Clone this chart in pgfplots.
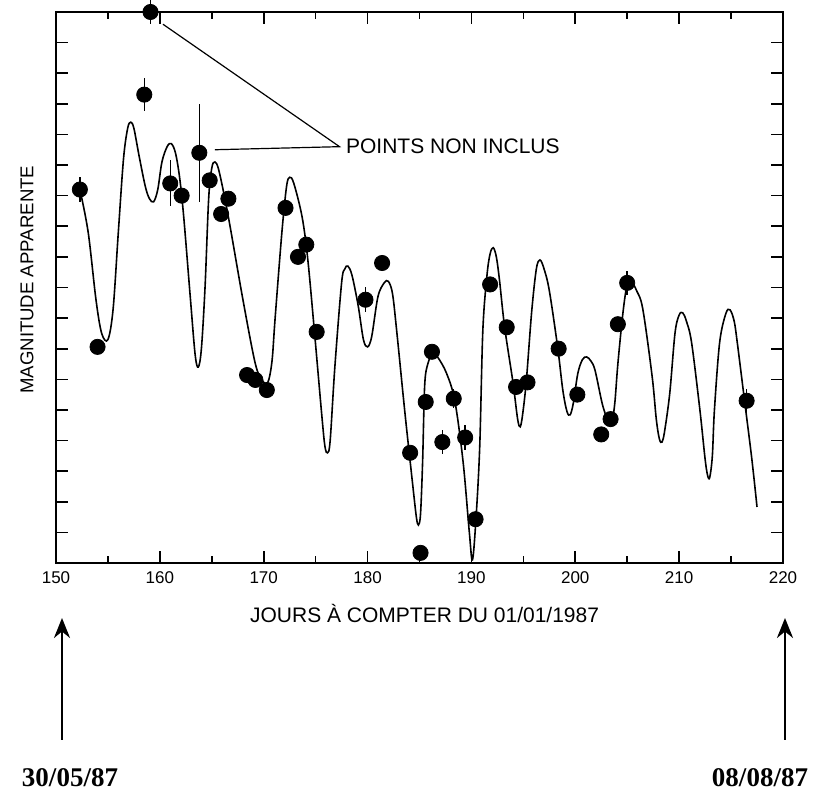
\documentclass[border=0pt]{standalone}
\usepackage{pgfplots}
\pgfplotsset{compat=1.18}
\usepackage{pgfplotstable}
\usetikzlibrary{arrows.meta}
\usepackage{fontspec}
\setmainfont{Liberation Sans}
\newfontfamily\datefont{Liberation Serif}

\pgfplotstableread{
x y
152.3 12.2
153.1 10.8
153.85 8.6
154.4 7.5
155.0 7.3
155.5 8.3
156.0 10.8
156.5 13.2
156.9 14.2
157.2 14.4
157.5 14.2
158.0 13.3
158.6 12.3
159.0 11.9
159.4 11.8
159.8 12.2
160.2 13.1
160.7 13.6
161.1 13.7
161.5 13.4
161.9 12.6
162.3 11.3
162.95 8.6
163.4 6.8
163.7 6.4
164.0 7.0
164.35 9.0
164.7 11.9
165.0 12.9
165.3 13.1
165.7 12.8
166.6 11.3
168.0 8.6
169.2 6.5
169.9 5.95
170.4 5.9
170.8 6.6
171.1 8.0
171.75 10.8
172.2 12.3
172.5 12.6
172.9 12.4
173.7 11.3
174.25 9.9
174.9 7.5
175.6 4.8
175.9 3.8
176.15 3.6
176.4 4.0
176.85 6.4
177.5 9.15
177.8 9.6
178.1 9.7
178.5 9.4
179.1 8.4
179.6 7.3
180.0 7.06
180.4 7.4
181.0 8.7
181.6 9.15
182.0 9.2
182.4 8.8
182.8 7.6
183.6 4.9
184.3 2.7
184.7 1.5
184.9 1.24
185.1 1.6
185.3 3.3
185.5 5.8
185.8 6.5
186.3 6.86
186.8 6.7
187.6 6.2
188.4 5.3
189.2 3.3
189.8 1.0
190.1 0.1
190.45 1.5
190.8 3.8
191.1 7.6
191.5 9.4
191.8 10.1
192.1 10.3
192.4 10.0
192.7 9.25
193.2 7.7
194.0 5.9
194.45 4.7
194.7 4.45
194.95 4.9
195.3 6.0
195.8 8.2
196.25 9.6
196.6 9.9
197.0 9.6
197.5 8.9
198.3 7.06
198.8 5.65
199.2 4.95
199.5 4.84
199.8 5.2
200.25 6.2
200.7 6.65
201.1 6.73
201.5 6.6
201.9 6.3
202.6 5.2
203.1 4.7
203.5 4.6
203.8 5.2
204.1 6.5
204.6 8.2
205.0 9.1
205.4 9.2
205.9 8.9
206.5 8.3
207.4 6.1
207.8 4.7
208.1 4.05
208.35 3.95
208.6 4.3
209.1 5.55
209.6 7.5
210.0 8.1
210.35 8.17
210.7 7.9
211.2 7.2
212.0 5.0
212.5 3.4
212.75 2.85
212.95 2.8
213.2 3.5
213.4 5.0
213.9 7.2
214.5 8.15
214.9 8.27
215.3 7.9
215.6 7.2
216.3 5.3
217.0 3.4
217.5 1.83
}\curve

\pgfplotstableread{
x y e
152.3 12.2 0.4
154.0 7.06 0
158.5 15.3 0.55
159.1 18.0 0.4
161.0 12.4 0.75
162.1 12.0 0
163.8 13.4 1.6
164.8 12.5 0
165.9 11.4 0
166.6 11.9 0
168.4 6.14 0
169.2 5.98 0
170.3 5.65 0
172.1 11.6 0
173.3 10.0 0
174.1 10.4 0
175.1 7.55 0
179.8 8.6 0.4
181.4 9.8 0
184.1 3.6 0
185.1 0.33 0
185.6 5.26 0
186.2 6.9 0
187.2 3.95 0.4
188.3 5.37 0.3
189.4 4.1 0.4
190.4 1.43 0
191.8 9.1 0
193.4 7.7 0
194.3 5.75 0
195.4 5.9 0
198.4 7.0 0
200.2 5.5 0
202.5 4.2 0
203.4 4.7 0
204.1 7.8 0
205.0 9.15 0.4
216.5 5.3 0.4
}\points

\begin{document}
\begin{tikzpicture}
\useasboundingbox (-28pt,-116pt) rectangle (380pt,281.5pt);
\begin{axis}[
  at={(0,0)}, anchor=south west,
  scale only axis, width=363.5pt, height=275.5pt,
  xmin=150, xmax=220, ymin=0, ymax=18,
  xtick={150,160,...,220}, minor xtick={155,165,...,215},
  ytick={1,...,17}, yticklabels={},
  tick align=inside, major tick length=6pt, minor tick length=3.5pt,
  axis line style={line width=1pt},
  tick style={line width=0.8pt, black},
  /pgf/number format/assume math mode=true,
  xticklabel style={font=\fontsize{8.5}{10}\selectfont, yshift=-1pt},
  every axis x label/.style={at={(axis description cs:0.507,-0.091)}, anchor=center},
  every axis y label/.style={at={(axis description cs:-0.04,0.514)}, rotate=90, anchor=center},
  xlabel={\fontsize{10.5}{12}\selectfont JOURS À COMPTER DU 01/01/1987},
  ylabel={\fontsize{9.3}{11}\selectfont MAGNITUDE APPARENTE},
  clip=false,
]
\addplot[black, line width=0.8pt, smooth, tension=0.55, mark=none] table[x=x, y=y] {\curve};
\addplot[only marks, mark=*, mark size=3.8pt, mark options={fill=black, draw=black},
  error bars/.cd, y dir=both, y explicit, error mark=none,
  error bar style={line width=0.7pt, black}]
  table[x=x, y=y, y error=e] {\points};
\draw[line width=0.6pt] (axis cs:160.3,17.6) -- (axis cs:177.3,13.6) -- (axis cs:165.3,13.5);
\node[anchor=west, inner sep=0pt, font=\fontsize{10.5}{12}\selectfont] at (axis cs:177.9,13.6) {POINTS NON INCLUS};
\end{axis}
\draw[-{Stealth[length=10pt,width=8pt]}, line width=1.4pt] (3pt,-88.5pt) -- (3pt,-27.5pt);
\draw[-{Stealth[length=10pt,width=8pt]}, line width=1.4pt] (364.5pt,-88.5pt) -- (364.5pt,-27.5pt);
\node[font=\datefont\bfseries\fontsize{13.5}{15}\selectfont, inner sep=0pt] at (7pt,-107.5pt) {30/05/87};
\node[font=\datefont\bfseries\fontsize{13.5}{15}\selectfont, inner sep=0pt] at (352pt,-107.5pt) {08/08/87};
\end{tikzpicture}
\end{document}
